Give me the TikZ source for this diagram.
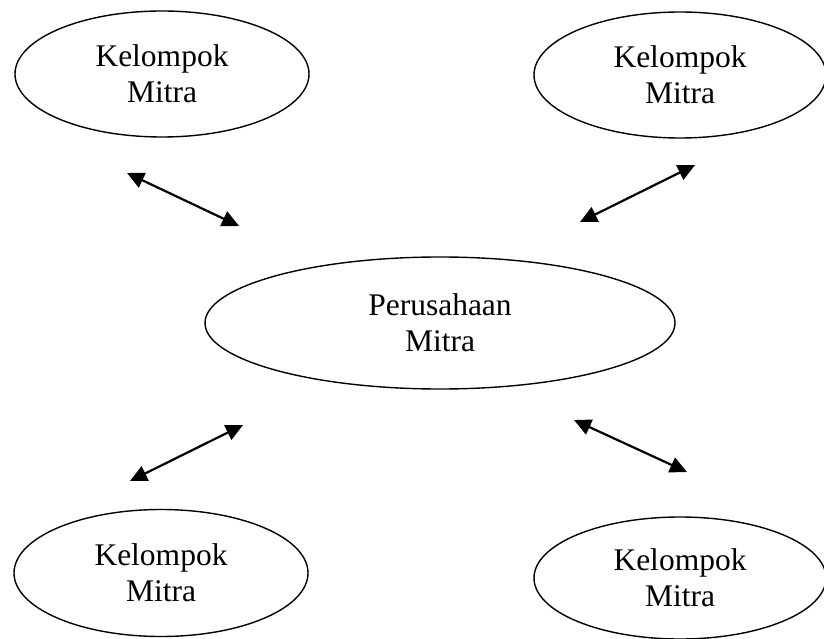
\documentclass[tikz,border=0pt]{standalone}
\usepackage{fontspec}
\setmainfont{Liberation Serif}
\usetikzlibrary{shapes.geometric,arrows.meta}
\begin{document}
\begin{tikzpicture}[x=1pt,y=-1pt,
  bubble/.style={draw, ellipse, line width=1.4pt, inner sep=0pt, align=center,
    font=\fontsize{31.5}{36}\selectfont},
  link/.style={line width=2.2pt,
    {Triangle[length=17pt,width=16pt]}-{Triangle[length=17pt,width=16pt]}}]
\useasboundingbox (0,0) rectangle (824,639);

% partner groups around the company
\node[bubble, minimum width=294pt, minimum height=126pt] (tl) at (162,74) {Kelompok\\Mitra};
\node[bubble, minimum width=292pt, minimum height=126pt] (tr) at (680,75) {Kelompok\\Mitra};
\node[bubble, minimum width=294pt, minimum height=127pt] (bl) at (161,573) {Kelompok\\Mitra};
\node[bubble, minimum width=292pt, minimum height=122pt] (br) at (680,578) {Kelompok\\Mitra};

% the partner company
\node[bubble, minimum width=470pt, minimum height=132pt] (pm) at (440,323) {Perusahaan\\Mitra};

% free ends of the two-way links
\coordinate (tlA) at (127,173);
\coordinate (tlB) at (239,226);
\coordinate (trA) at (580,222);
\coordinate (trB) at (695,165);
\coordinate (blA) at (130,481);
\coordinate (blB) at (243,425);
\coordinate (brA) at (574,420);
\coordinate (brB) at (687,472);

\draw[link] (tlA) -- (tlB);
\draw[link] (trA) -- (trB);
\draw[link] (blA) -- (blB);
\draw[link] (brA) -- (brB);
\end{tikzpicture}
\end{document}
